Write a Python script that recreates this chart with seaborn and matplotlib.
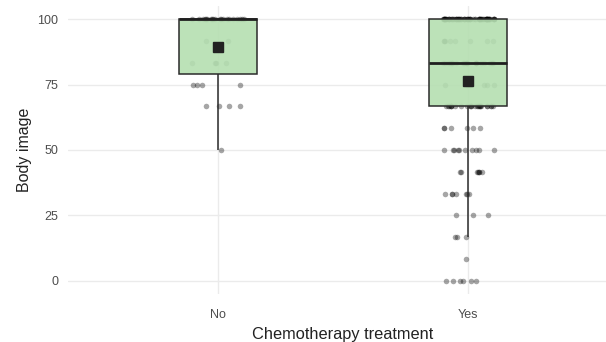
"""Body image by chemotherapy treatment: box plot with jittered points."""

import matplotlib

matplotlib.use("Agg")
import matplotlib.pyplot as plt
import numpy as np
import pandas as pd
import seaborn as sns

# Body image scores sit on a 12-step scale (0..100)
score_levels = [0, 8.33, 16.67, 25, 33.33, 41.67, 50, 58.33, 66.67, 75, 83.33, 91.67, 100]
counts_no = [0, 0, 0, 0, 0, 0, 1, 0, 4, 4, 4, 2, 20]
counts_yes = [6, 1, 3, 3, 7, 7, 10, 6, 24, 6, 20, 8, 75]
groups = ["No", "Yes"]
y_ticks = [0, 25, 50, 75, 100]

df = pd.concat(
    [
        pd.DataFrame({"chemo": "No", "body_image": np.repeat(score_levels, counts_no)}),
        pd.DataFrame({"chemo": "Yes", "body_image": np.repeat(score_levels, counts_yes)}),
    ],
    ignore_index=True,
)

sns.set_theme(style="whitegrid")
plt.rcParams["font.family"] = ["Liberation Sans", "DejaVu Sans"]

fig = plt.figure(figsize=(6.06, 3.42), dpi=100)
ax = fig.add_axes([68 / 606, 48 / 342, 550 / 606, 288 / 342])

np.random.seed(3)
sns.stripplot(
    data=df, x="chemo", y="body_image", order=groups, jitter=0.11,
    color="black", alpha=0.35, size=4.0, linewidth=0, zorder=2, ax=ax,
)

# whis slightly above 1.5 so rounded levels keep the 16.67 whisker end
sns.boxplot(
    data=df, x="chemo", y="body_image", order=groups, width=0.31,
    showfliers=False, showcaps=False, whis=1.51, showmeans=True,
    color="#b4dfb1", linecolor="#2b2b2b", linewidth=1.1,
    medianprops={"linewidth": 2.0, "color": "#1f1f1f"},
    meanprops={"marker": "s", "markersize": 7, "markerfacecolor": "#222222",
               "markeredgecolor": "#222222"},
    ax=ax,
)
for patch in ax.patches:
    patch.set_facecolor((0.71, 0.875, 0.694, 0.9))
    patch.set_zorder(3)
for line in ax.lines:
    line.set_zorder(4)

ax.set_xlim(-0.6, 1.6)
ax.set_ylim(-5, 105)
ax.set_yticks(y_ticks)
ax.set_xlabel("Chemotherapy treatment", fontsize=11.8, color="#222222", labelpad=4)
ax.set_ylabel("Body image", fontsize=11.5, color="#222222")
ax.tick_params(axis="both", labelsize=9, labelcolor="#4d4d4d", length=0)
ax.tick_params(axis="x", pad=11)
ax.tick_params(axis="y", pad=7)
ax.grid(True, color="#ebebeb", linewidth=1.0)
for spine in ax.spines.values():
    spine.set_visible(False)

fig.savefig("out.png", dpi=100)
plt.close(fig)
